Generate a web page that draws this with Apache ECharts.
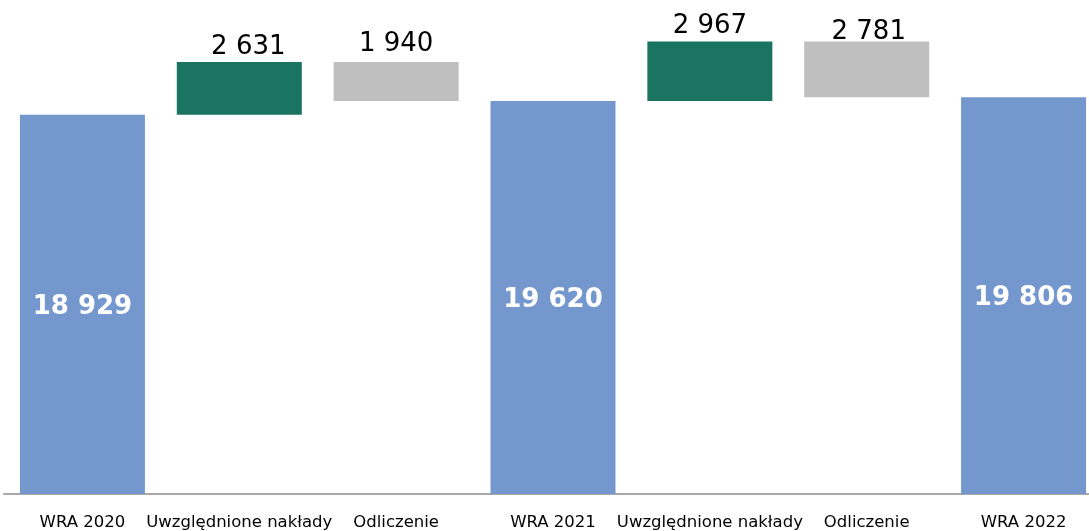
<!DOCTYPE html>
<html>
<head>
<meta charset="utf-8">
<script src="https://cdn.jsdelivr.net/npm/echarts@6/dist/echarts.min.js"></script>
<style>
html,body{margin:0;padding:0;background:#fff;overflow:hidden;width:1089px;height:531px;}
#c{width:1102px;height:531px;}
</style>
</head>
<body>
<div id="c"></div>
<script>
const categories = ["WRA 2020", "Uwzględnione nakłady", "Odliczenie", "WRA 2021", "Uwzględnione nakłady", "Odliczenie", "WRA 2022"];
const totals = [18929, null, null, 19620, null, null, 19806];
const increases = [null, 2631, null, null, 2967, null, null];
const decreases = [null, null, 1940, null, null, 2781, null];

// invisible base for the floating bars
const base = [];
let running = 0;
for (let i = 0; i < categories.length; i++) {
  if (totals[i] != null) { running = totals[i]; base.push(0); }
  else if (increases[i] != null) { base.push(running); running += increases[i]; }
  else if (decreases[i] != null) { running -= decreases[i]; base.push(running); }
  else base.push(0);
}

const fmt = v => String(v).replace(/\B(?=(\d{3})+(?!\d))/g, ' ');
const FONT = '"DejaVu Sans", Verdana, sans-serif';
// per-label placement tweaks (style only)
const incLabelShift = [0, 9, 0, 0, 0, 0, 0];
const decLabelDist = [0, 0, 5, 0, 0, -4, 0];
const decLabelShift = [0, 0, 0, 0, 0, 2, 0];

const chart = echarts.init(document.getElementById('c'), null, {renderer: 'canvas'});
chart.setOption({
  animation: false,
  grid: {left: 4, right: 0, top: 13.2, bottom: 36, containLabel: false},
  xAxis: {
    type: 'category',
    data: categories,
    axisLine: {show: true, lineStyle: {color: '#A8A8A8', width: 2}},
    axisTick: {show: false},
    axisLabel: {interval: 0, margin: 20, fontSize: 16.5, color: '#000', fontFamily: FONT}
  },
  yAxis: {
    type: 'value', min: 0, max: 24000, show: false,
    splitLine: {show: false}
  },
  series: [
    {
      name: 'base', type: 'bar', stack: 'w', data: base, barWidth: 125,
      itemStyle: {color: 'transparent'}, silent: true
    },
    {
      name: 'WRA', type: 'bar', stack: 'w', data: totals, barWidth: 125,
      itemStyle: {color: '#7498CE'},
      label: {show: true, position: 'inside', offset: [0, 3], color: '#fff', fontWeight: 'bold', fontSize: 26, fontFamily: FONT,
        formatter: p => fmt(p.value)}
    },
    {
      name: 'Uwzględnione nakłady', type: 'bar', stack: 'w', barWidth: 125,
      data: increases.map((v, i) => v == null ? null : {value: v, label: {offset: [incLabelShift[i], 0]}}),
      itemStyle: {color: '#1B7462'},
      label: {show: true, position: 'top', distance: 2, color: '#000', fontSize: 26, fontFamily: FONT,
        formatter: p => fmt(p.value)}
    },
    {
      name: 'Odliczenie', type: 'bar', stack: 'w', barWidth: 125,
      data: decreases.map((v, i) => v == null ? null : {value: v, label: {distance: decLabelDist[i], offset: [decLabelShift[i], 0]}}),
      itemStyle: {color: '#BFBFBF'},
      label: {show: true, position: 'top', color: '#000', fontSize: 26, fontFamily: FONT,
        formatter: p => fmt(p.value)}
    }
  ]
});
</script>
</body>
</html>
